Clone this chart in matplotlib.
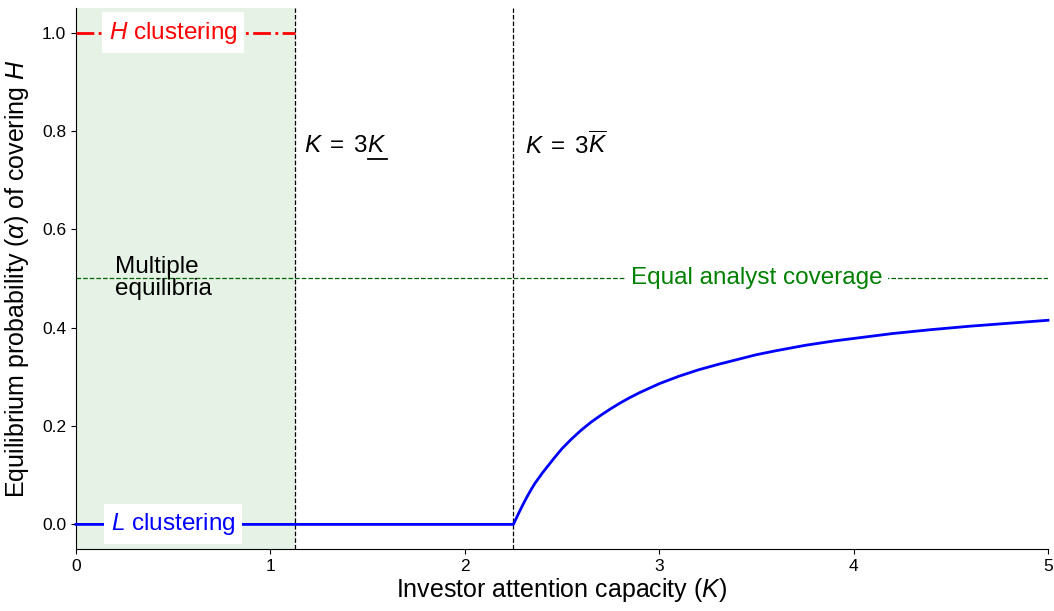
import matplotlib
matplotlib.use("Agg")
import matplotlib.pyplot as plt
from matplotlib.lines import Line2D

plt.rcParams["font.family"] = ["Liberation Sans", "DejaVu Sans"]
plt.rcParams["mathtext.fontset"] = "custom"
plt.rcParams["mathtext.rm"] = "Liberation Sans"
plt.rcParams["mathtext.it"] = "Liberation Sans:italic"

# Thresholds on investor attention capacity
k_low = 1.125    # K = 3 * K_lower
k_high = 2.25    # K = 3 * K_upper
equal_coverage = 0.5

# Equilibrium probability of covering H (L-clustering branch, then interior)
capacity = [0.0, 2.25, 2.26, 2.28, 2.30, 2.32, 2.34, 2.36, 2.38, 2.40, 2.43,
            2.46, 2.50, 2.55, 2.60, 2.65, 2.70, 2.75, 2.80, 2.85, 2.90, 2.95,
            3.00, 3.10, 3.20, 3.30, 3.40, 3.50, 3.60, 3.75, 3.90, 4.00, 4.20,
            4.40, 4.60, 4.80, 5.00]
alpha = [0.0, 0.0, 0.0085, 0.025, 0.041, 0.056, 0.070, 0.083, 0.094, 0.105, 0.120,
         0.135, 0.154, 0.174, 0.192, 0.208, 0.222, 0.235, 0.247, 0.258, 0.268, 0.277,
         0.286, 0.301, 0.314, 0.325, 0.335, 0.345, 0.353, 0.364, 0.373, 0.378, 0.388,
         0.396, 0.403, 0.409, 0.415]

# H-clustering branch
h_capacity = [0.0, k_low]
h_alpha = [1.0, 1.0]

fig = plt.figure(figsize=(10.54, 6.11), dpi=100)
ax = fig.add_axes([0.0721, 0.1015, 0.9222, 0.8855])

ax.axvspan(0, k_low, color="green", alpha=0.1, lw=0)
ax.axvline(k_low, color="black", ls="--", lw=0.9)
ax.axvline(k_high, color="black", ls="--", lw=0.9)
ax.axhline(equal_coverage, color="darkgreen", ls="--", lw=0.9)

ax.plot(capacity, alpha, color="blue", lw=2, clip_on=False, zorder=3)
ax.plot(h_capacity, h_alpha, color="red", lw=2, ls="-.", clip_on=False, zorder=3)

fs = 17.5
ax.text(0.5, 1.0, r"$H$ clustering", color="red", fontsize=fs,
        ha="center", va="center", zorder=4,
        bbox=dict(facecolor="white", edgecolor="none", pad=5))
ax.text(0.5, 0.0, r"$L$ clustering", color="blue", fontsize=fs,
        ha="center", va="center", zorder=4,
        bbox=dict(facecolor="white", edgecolor="none", pad=5))
ax.text(0.2, 0.5, "Multiple\nequilibria", color="black", fontsize=fs,
        ha="left", va="center", linespacing=1.0)
ax.text(3.5, 0.5, "Equal analyst coverage", color="green", fontsize=fs,
        ha="center", va="center",
        bbox=dict(facecolor="white", edgecolor="none", pad=4))
low_label = ax.text(k_low + 0.05, 0.77, r"$K\;=\;3K$", fontsize=fs,
                    ha="left", va="center")
ax.text(k_high + 0.06, 0.77, r"$K\;=\;3\overline{K}$", fontsize=fs,
        ha="left", va="center")

ax.set_xlim(0, 5)
ax.set_ylim(-0.05, 1.05)
ax.set_xticks([0, 1, 2, 3, 4, 5])
ax.set_yticks([0.0, 0.2, 0.4, 0.6, 0.8, 1.0])
ax.set_yticklabels(["0.0", "0.2", "0.4", "0.6", "0.8", "1.0"])
ax.tick_params(labelsize=12.5)
ax.spines["top"].set_visible(False)
ax.spines["right"].set_visible(False)

ax.set_xlabel(r"Investor attention capacity ($K$)", fontsize=18, labelpad=2)
ax.set_ylabel(r"Equilibrium probability ($\alpha$) of covering $H$", fontsize=18,
              labelpad=8)

# Underline the last K of the lower-threshold label (mathtext has no \underline)
fig.canvas.draw()
renderer = fig.canvas.get_renderer()
bb = low_label.get_window_extent(renderer)
probe = fig.text(0, 0, r"$K$", fontsize=fs)
kw = probe.get_window_extent(renderer).width
probe.remove()
inv = fig.transFigure.inverted()
(x0, y0) = inv.transform((bb.x1 - kw, bb.y0 - 2))
(x1, _) = inv.transform((bb.x1, bb.y0 - 2))
fig.add_artist(Line2D([x0, x1], [y0, y0], transform=fig.transFigure,
                      color="black", lw=1.3))

fig.savefig("out.png", dpi=100)
